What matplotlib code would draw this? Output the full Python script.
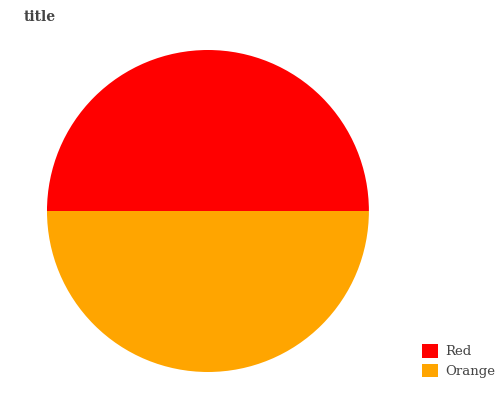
import matplotlib
matplotlib.use("Agg")
import matplotlib.pyplot as plt
from matplotlib.patches import Patch

labels = ["Red", "Orange"]
values = [50, 50]
colors = ["#ff0000", "#ffa500"]

plt.rcParams['font.family'] = ['DejaVu Serif']
fig = plt.figure(figsize=(5.03, 4.0), dpi=100)
ax = fig.add_axes([0.0934, 0.07, 0.640, 0.805])
ax.pie(values, colors=colors, startangle=0, counterclock=True,
       wedgeprops=dict(linewidth=0))
ax.set_aspect('auto')
ax.set_xlim(-1, 1)
ax.set_ylim(-1, 1)
ax.axis('off')

fig.text(0.048, 0.957, "title", fontsize=10, fontweight='bold', color='#444444',
         va='center', ha='left')

handles = [Patch(facecolor=c, edgecolor='none') for c in colors]
fig.legend(handles, labels, loc='center left', bbox_to_anchor=(0.816, 0.0975),
           frameon=False, fontsize=9.5, labelcolor='#444444',
           handlelength=1.2, handleheight=1.2, handletextpad=0.5, labelspacing=0.4)
fig.savefig("out.png", dpi=100, facecolor='white')
